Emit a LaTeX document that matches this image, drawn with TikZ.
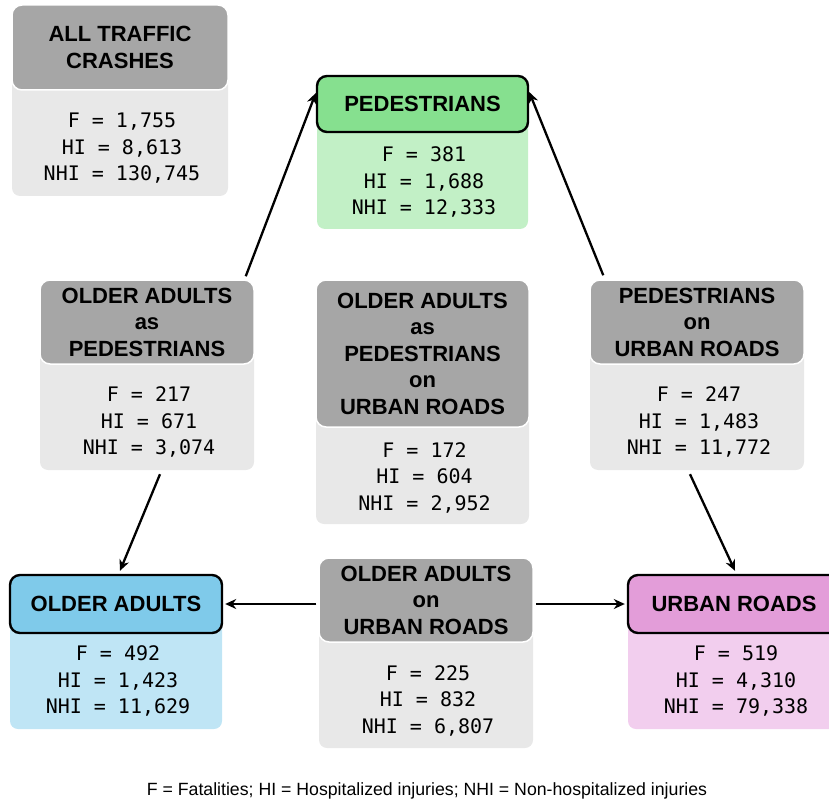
\documentclass[tikz,border=0pt]{standalone}
\usepackage{fontspec}
\setmainfont{Liberation Sans}
\newfontfamily\valfont{DejaVu Sans Mono}
\usetikzlibrary{arrows.meta}

\definecolor{headgray}{RGB}{166,166,166}
\definecolor{bodygray}{RGB}{232,232,232}
\definecolor{headgreen}{RGB}{134,224,143}
\definecolor{bodygreen}{RGB}{194,240,198}
\definecolor{headblue}{RGB}{127,202,234}
\definecolor{bodyblue}{RGB}{191,229,245}
\definecolor{headpink}{RGB}{227,157,217}
\definecolor{bodypink}{RGB}{242,206,238}

\begin{document}
\begin{tikzpicture}[x=1pt, y=-1pt, >={Stealth[length=11pt,width=10pt]},
  every head/.style={rounded corners=10pt, align=center, inner sep=0pt,
    font=\fontsize{22}{26.5}\selectfont\bfseries},
  gray head/.style={every head, fill=headgray, draw=white, line width=1.5pt},
  key head/.style={every head, draw=black, line width=2.4pt},
  every body/.style={rounded corners=8pt, inner sep=0pt},
  every value/.style={align=center, inner sep=0pt,
    font=\valfont\fontsize{20}{26.5}\selectfont},
  link/.style={->, line width=2.3pt}]

\clip (0,0) rectangle (829,802);

% bodies first, headers drawn over them
\node [every body, fill=bodygray, minimum width=216, minimum height=148.5] (all-body) at (120,121.75) {};
\node [every body, fill=bodygreen, minimum width=211, minimum height=125] (ped-body) at (422.5,166.5) {};
\node [every body, fill=bodygray, minimum width=214, minimum height=148] (oaped-body) at (147,396) {};
\node [every body, fill=bodygray, minimum width=213, minimum height=170.5] (oapedur-body) at (422.5,438.75) {};
\node [every body, fill=bodygray, minimum width=214, minimum height=148] (pedur-body) at (697,396) {};
\node [every body, fill=bodyblue, minimum width=212, minimum height=125] (oa-body) at (116,666.5) {};
\node [every body, fill=bodygray, minimum width=214, minimum height=148] (oaur-body) at (426,674) {};
\node [every body, fill=bodypink, minimum width=212, minimum height=125] (ur-body) at (734,666.5) {};

\node [gray head, minimum width=216, minimum height=85] (all) at (120,47.5) {ALL TRAFFIC\\CRASHES};
\node [key head, fill=headgreen, minimum width=211, minimum height=56] (ped) at (422.5,104) {PEDESTRIANS};
\node [gray head, minimum width=214, minimum height=84] (oaped) at (147,322) {OLDER ADULTS\\as\\PEDESTRIANS};
\node [gray head, minimum width=213, minimum height=147] (oapedur) at (422.5,353.5) {OLDER ADULTS\\as\\PEDESTRIANS\\on\\URBAN ROADS};
\node [gray head, minimum width=214, minimum height=84] (pedur) at (697,322) {PEDESTRIANS\\on\\URBAN ROADS};
\node [key head, fill=headblue, minimum width=212, minimum height=58] (oa) at (116,604) {OLDER ADULTS};
\node [gray head, minimum width=214, minimum height=84] (oaur) at (426,600) {OLDER ADULTS\\on\\URBAN ROADS};
\node [key head, fill=headpink, minimum width=212, minimum height=58] (ur) at (734,604) {URBAN ROADS};

% counts
\node [every value] (all-v) at (122,148.5) {F = 1,755\\HI = 8,613\\NHI = 130,745};
\node [every value] (ped-v) at (424,182) {F = 381\\HI = 1,688\\NHI = 12,333};
\node [every value] (oaped-v) at (149,422) {F = 217\\HI = 671\\NHI = 3,074};
\node [every value] (oapedur-v) at (424.5,477.5) {F = 172\\HI = 604\\NHI = 2,952};
\node [every value] (pedur-v) at (699,422) {F = 247\\HI = 1,483\\NHI = 11,772};
\node [every value] (oa-v) at (118,681) {F = 492\\HI = 1,423\\NHI = 11,629};
\node [every value] (oaur-v) at (428,700.5) {F = 225\\HI = 832\\NHI = 6,807};
\node [every value] (ur-v) at (736,681) {F = 519\\HI = 4,310\\NHI = 79,338};

\draw [link] ([xshift=-9pt,yshift=3pt]oaped.north east) -- ([yshift=11pt]ped.west);
\draw [link] ([xshift=14pt,yshift=4pt]pedur.north west) -- ([yshift=12pt]ped.east);
\draw [link] ([xshift=13pt,yshift=-4pt]oaped-body.south) -- ([xshift=4pt,yshift=3pt]oa.north);
\draw [link] ([xshift=-7pt,yshift=-4pt]pedur-body.south) -- ([xshift=1pt,yshift=3pt]ur.north);
\draw [link] ([xshift=-2pt]oaur.west |- oa.east) -- ([xshift=2pt]oa.east);
\draw [link] ([xshift=2pt]oaur.east |- ur.west) -- ([xshift=-2pt]ur.west);

\node [font=\fontsize{17.7}{20}\selectfont] (legend) at (427,791)
  {F = Fatalities; HI = Hospitalized injuries; NHI = Non-hospitalized injuries};

\end{tikzpicture}
\end{document}
